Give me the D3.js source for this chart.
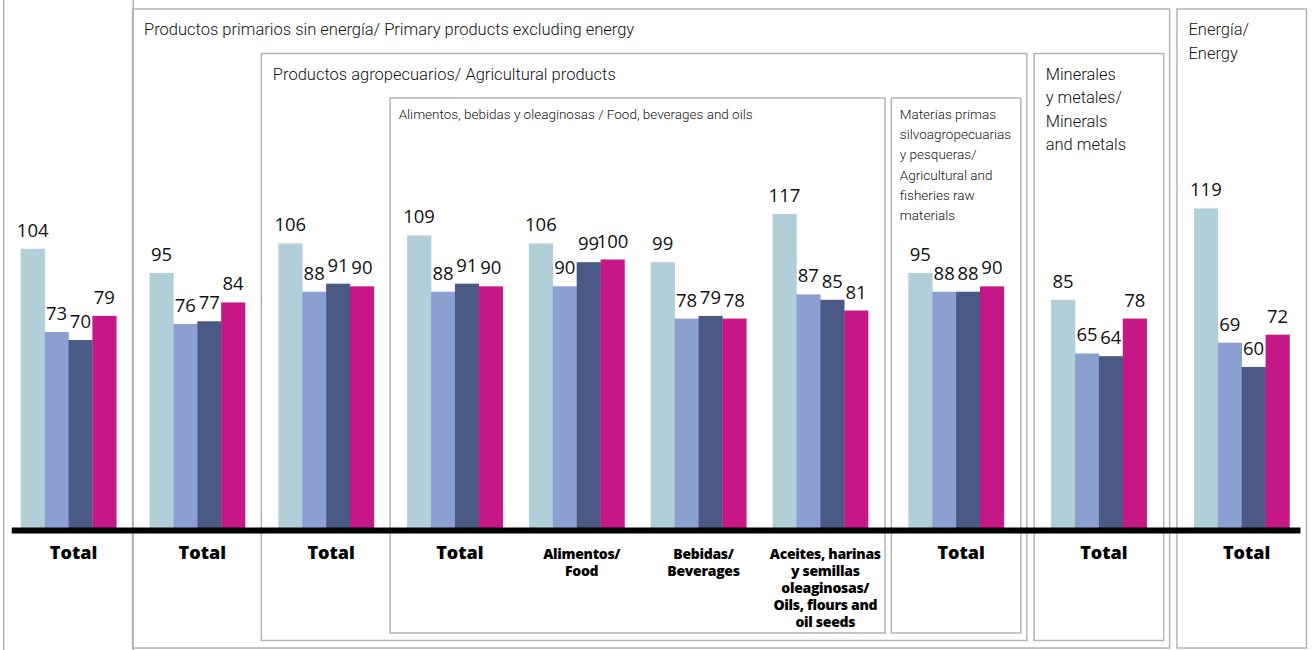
<!DOCTYPE html>
<html>
<head>
<meta charset="utf-8">
<script src="https://cdn.jsdelivr.net/npm/d3@7"></script>
<style>
  html, body { margin: 0; padding: 0; background: #fff; }
  svg { display: block; }
</style>
</head>
<body>
<svg id="chart" width="1312" height="650"></svg>
<script>
// ---------------- DATA ----------------
const categories = [
  ["Total"],
  ["Total"],
  ["Total"],
  ["Total"],
  ["Alimentos/", "Food"],
  ["Bebidas/", "Beverages"],
  ["Aceites, harinas", "y semillas", "oleaginosas/", "Oils, flours and", "oil seeds"],
  ["Total"],
  ["Total"],
  ["Total"]
];
const seriesA = [104, 95, 106, 109, 106, 99, 117, 95, 85, 119];
const seriesB = [73, 76, 88, 88, 90, 78, 87, 88, 65, 69];
const seriesC = [70, 77, 91, 91, 99, 79, 85, 88, 64, 60];
const seriesD = [79, 84, 90, 90, 100, 78, 81, 90, 78, 72];

// Grouping boxes: first and last category index, nesting depth, title lines
const boxFirst = [0, 1, 2, 3, 7, 8, 9];
const boxLast  = [0, 8, 7, 6, 7, 8, 9];
const boxDepth = [-1, 0, 1, 2, 2, 1, 0];
const boxTitles = [
  [],
  ["Productos primarios sin energía/ Primary products excluding energy"],
  ["Productos agropecuarios/ Agricultural products"],
  ["Alimentos, bebidas y oleaginosas / Food, beverages and oils"],
  ["Materias primas", "silvoagropecuarias", "y pesqueras/", "Agricultural and", "fisheries raw", "materials"],
  ["Minerales", "y metales/", "Minerals", "and metals"],
  ["Energía/", "Energy"]
];

// ---------------- STYLE / LAYOUT ----------------
const seriesList = [seriesA, seriesB, seriesC, seriesD];
const colors = ["#b0cfd9", "#8c9fd1", "#4b5a85", "#c51886"];
const baseY = 528;
const unitPx = 121.8, firstCenter = 68.5, groupW = 95.5;
const borderGap = 7 / unitPx;
const boxPad = 17, nestPad = 6;

const svg = d3.select("#chart");

// Group slots (in units), widened by the box borders that lie between groups
const n = categories.length;
const slots = [0];
for (let i = 0; i < n - 1; i++) {
  let borders = 0;
  for (let b = 0; b < boxFirst.length; b++) {
    if (boxLast[b] === i && boxDepth[b] >= 0) borders++;
    if (boxFirst[b] === i + 1) borders++;
  }
  slots.push(slots[i] + 1 + borderGap * borders);
}

const x = d3.scaleLinear().domain([0, 1]).range([firstCenter, firstCenter + unitPx]);
const x1 = d3.scaleBand().domain(d3.range(seriesList.length)).range([-groupW / 2, groupW / 2]).padding(0);
const y = d3.scaleLinear().domain([0, 100]).range([baseY, baseY - 268.5]);

const cx = i => x(slots[i]);

// ---------------- BOXES ----------------
function innerCount(b, side) {
  let c = 0;
  for (let k = 0; k < boxFirst.length; k++) {
    if (k === b || boxDepth[k] <= boxDepth[b]) continue;
    if (boxFirst[k] >= boxFirst[b] && boxLast[k] <= boxLast[b]) {
      if (side === "L" && boxFirst[k] === boxFirst[b]) c = Math.max(c, boxDepth[k] - boxDepth[b]);
      if (side === "R" && boxLast[k] === boxLast[b]) c = Math.max(c, boxDepth[k] - boxDepth[b]);
    }
  }
  return c;
}

const boxes = boxFirst.map((f, b) => {
  const left = cx(f) - groupW / 2 - boxPad - nestPad * innerCount(b, "L");
  const right = cx(boxLast[b]) + groupW / 2 + boxPad + nestPad * innerCount(b, "R");
  const d = boxDepth[b];
  const top = d < 0 ? -10 : 9 + d * 44.5;
  const bottom = d < 0 ? 660 : 648 - d * 7.5;
  return { left, right, top, bottom, d, titles: boxTitles[b] };
});

svg.append("g").selectAll("rect").data(boxes).join("rect")
  .attr("x", d => d.left)
  .attr("y", d => d.top)
  .attr("width", d => d.right - d.left)
  .attr("height", d => d.bottom - d.top)
  .attr("fill", "none")
  .attr("stroke", "#b4b4b4")
  .attr("stroke-width", 1.5);

// Box titles
const titleStyle = d => {
  const small = d.d === 2;
  return {
    size: small ? 13.5 : 16.5,
    lh: small ? 20.2 : 23.5,
    dx: small ? 8.5 : 11.5,
    dy: small ? 21 : 26
  };
};
boxes.forEach(b => {
  if (!b.titles.length) return;
  const s = titleStyle(b);
  const t = svg.append("text")
    .attr("x", b.left + s.dx)
    .attr("y", b.top + s.dy)
    .attr("font-family", "Roboto, 'Open Sans', sans-serif")
    .attr("font-size", s.size)
    .attr("font-weight", 300)
    .attr("fill", "#111");
  b.titles.forEach((line, i) => {
    t.append("tspan").attr("x", b.left + s.dx).attr("dy", i === 0 ? 0 : s.lh).text(line);
  });
});

// ---------------- BARS ----------------
const barData = [];
seriesList.forEach((ser, s) => ser.forEach((v, i) => barData.push({ i, s, v })));

svg.append("g").selectAll("rect").data(barData).join("rect")
  .attr("x", d => cx(d.i) + x1(d.s))
  .attr("y", d => y(d.v))
  .attr("width", x1.bandwidth() + 0.3)
  .attr("height", d => baseY - y(d.v))
  .attr("fill", d => colors[d.s]);

svg.append("g").selectAll("text").data(barData).join("text")
  .attr("x", d => cx(d.i) + x1(d.s) + x1.bandwidth() / 2)
  .attr("y", d => y(d.v) - 12)
  .attr("text-anchor", "middle")
  .attr("font-family", "'Open Sans', sans-serif")
  .attr("font-size", 18.5)
  .attr("font-weight", 500)
  .attr("fill", "#111")
  .text(d => d.v);

// ---------------- AXIS LINE ----------------
svg.append("line")
  .attr("x1", cx(0) - groupW / 2 - 9)
  .attr("x2", cx(n - 1) + groupW / 2 + 11)
  .attr("y1", baseY + 2.5)
  .attr("y2", baseY + 2.5)
  .attr("stroke", "#000")
  .attr("stroke-width", 6);

// ---------------- CATEGORY LABELS ----------------
categories.forEach((lines, i) => {
  const single = lines.length === 1;
  const t = svg.append("text")
    .attr("x", cx(i) + 5)
    .attr("y", baseY + 31)
    .attr("text-anchor", "middle")
    .attr("font-family", "'Open Sans', sans-serif")
    .attr("font-weight", 800)
    .attr("font-size", single ? 18 : 14)
    .attr("letter-spacing", single ? 0 : -0.3)
    .attr("fill", "#000");
  lines.forEach((line, k) => {
    t.append("tspan").attr("x", cx(i) + 5).attr("dy", k === 0 ? 0 : 16.9).text(line);
  });
});
</script>
</body>
</html>
